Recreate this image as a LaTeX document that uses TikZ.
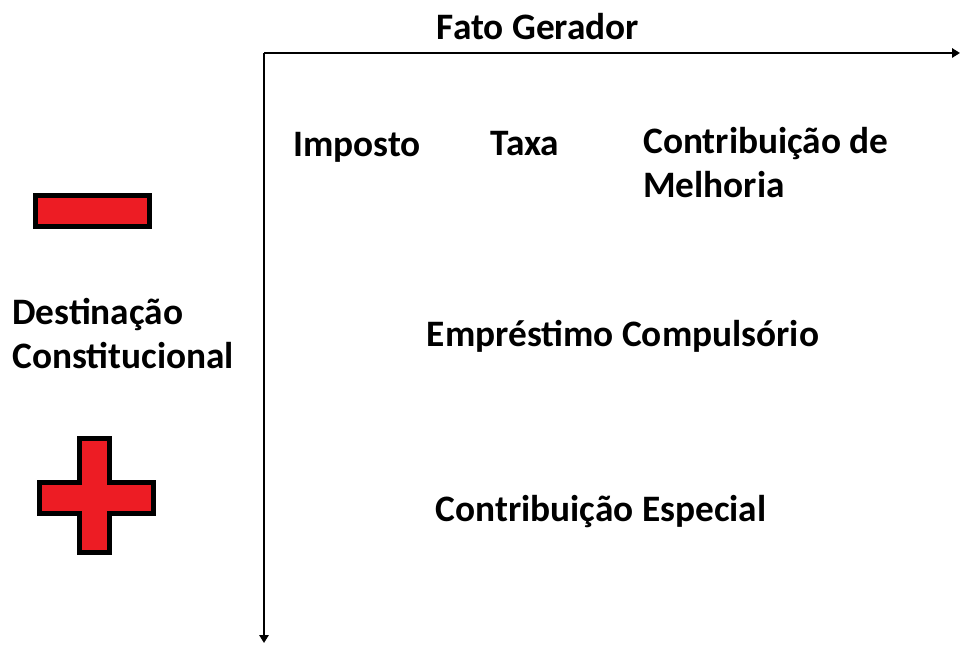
\documentclass[tikz,border=0pt]{standalone}
\usepackage{fontspec}
\setmainfont{Carlito}
\usepackage{tikz}
\usetikzlibrary{arrows.meta}
\definecolor{signred}{HTML}{ED1C24}
\tikzset{
  every picture/.style={x=0.75pt, y=-0.75pt},
  lbl/.style={inner sep=0pt, anchor=base, font=\fontsize{28}{33}\selectfont\bfseries},
  axis/.style={line width=1.6pt, -{Triangle[length=6pt,width=7pt]}},
  sign/.style={draw=black, line width=3.6pt, fill=signred, line join=miter}
}

\begin{document}
\begin{tikzpicture}
    \useasboundingbox (0,0) rectangle (961,645);
    % axes
    \coordinate (o) at (264,53);
    \coordinate (xend) at (960,53);
    \coordinate (yend) at (264,643);
    \draw[axis] (o) -- (xend);
    \draw[axis] (o) -- (yend);
    \node[lbl] (fato) at (538,40) {Fato Gerador};
    % tributos
    \node[lbl] (imposto) at (357,157) {Imposto};
    \node[lbl] (taxa) at (525,156) {Taxa};
    \node[lbl, anchor=base west, align=left] (melhoria) at (643,198) {Contribuição de\\Melhoria};
    \node[lbl] (emprestimo) at (623,347) {Empréstimo Compulsório};
    \node[lbl] (especial) at (601,521) {Contribuição Especial};
    \node[lbl, anchor=base west, align=left] (destinacao) at (12,369) {Destinação\\Constitucional};
    % sinais
    \draw[sign] (35.5,195.5) rectangle (149.5,226.5);
    \draw[sign] (79.5,438.5) -- (109.5,438.5) -- (109.5,482.5) -- (153.5,482.5)
      -- (153.5,513.5) -- (109.5,513.5) -- (109.5,552.5) -- (79.5,552.5)
      -- (79.5,513.5) -- (39.5,513.5) -- (39.5,482.5) -- (79.5,482.5) -- cycle;
\end{tikzpicture}
\end{document}
